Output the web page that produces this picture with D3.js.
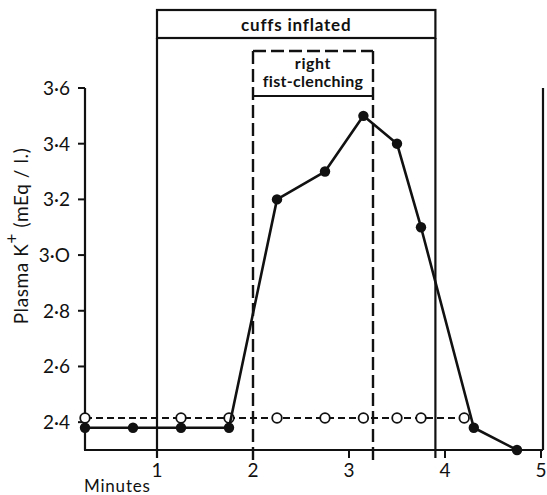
<!DOCTYPE html>
<html><head><meta charset="utf-8">
<script src="https://cdn.jsdelivr.net/npm/d3@7"></script>
<style>body{margin:0;background:#fff;-webkit-font-smoothing:antialiased}svg{display:block}text{font-family:Lato,"Open Sans",sans-serif;fill:#111}</style>
</head><body>
<script>
// Data
const filledMinutes = [0.25, 0.75, 1.25, 1.75, 2.25, 2.75, 3.15, 3.5, 3.75, 4.3, 4.75];
const filledK       = [2.38, 2.38, 2.38, 2.38, 3.2, 3.3, 3.5, 3.4, 3.1, 2.38, 2.3];
const openMinutes   = [0.25, 1.25, 1.75, 2.25, 2.75, 3.15, 3.5, 3.75, 4.2];
const openK         = [2.415, 2.415, 2.415, 2.415, 2.415, 2.415, 2.415, 2.415, 2.415];
const yTicks = [2.4, 2.6, 2.8, 3.0, 3.2, 3.4, 3.6];
const yTickLabels = ["2·4", "2·6", "2·8", "3·O", "3·2", "3·4", "3·6"];
const xTicks = [1, 2, 3, 4, 5];
const xTickLabels = ["1", "2", "3", "4", "5"];
const cuffs = {start: 1, end: 3.9, label: "cuffs inflated"};
const fist = {start: 2, end: 3.25, label: ["right", "fist-clenching"]};

const W = 547, H = 495;
const svg = d3.select("body").append("svg").attr("width", W).attr("height", H);
const x = d3.scaleLinear().domain([0.25, 5]).range([85, 541]);
const y = d3.scaleLinear().domain([2.3, 3.6]).range([450, 88]);
const ink = "#111";

// axes lines
svg.append("line").attr("x1", x(0.25)).attr("x2", x(0.25)).attr("y1", y(3.6)).attr("y2", y(2.3)).attr("stroke", ink).attr("stroke-width", 2.2);
svg.append("line").attr("x1", x(0.25)-1).attr("x2", x(5)+2).attr("y1", y(2.3)).attr("y2", y(2.3)).attr("stroke", ink).attr("stroke-width", 2.2);
svg.append("line").attr("x1", x(5)+2).attr("x2", x(5)+2).attr("y1", y(3.6)).attr("y2", y(2.3)).attr("stroke", ink).attr("stroke-width", 2.2);

// y ticks
const yAxis = svg.append("g");
yTicks.forEach((t, i) => {
  yAxis.append("line").attr("x1", x(0.25)-7).attr("x2", x(0.25)).attr("y1", y(t)).attr("y2", y(t)).attr("stroke", ink).attr("stroke-width", 2);
  yAxis.append("text").attr("x", x(0.25)-15).attr("y", y(t)).attr("dy", "0.36em").attr("text-anchor", "end")
    .attr("font-size", 19).text(yTickLabels[i]);
});
// x ticks
xTicks.forEach((t, i) => {
  svg.append("line").attr("x1", x(t)).attr("x2", x(t)).attr("y1", y(2.3)).attr("y2", y(2.3)+8).attr("stroke", ink).attr("stroke-width", 2);
  svg.append("text").attr("x", x(t)).attr("y", 477).attr("text-anchor", "middle").attr("font-size", 19).text(xTickLabels[i]);
});
svg.append("text").attr("x", 84).attr("y", 492).attr("font-size", 17).attr("letter-spacing", 0.8).text("Minutes");

// y label
const yl = svg.append("g").attr("opacity", 0.99).append("text").attr("transform", "translate(28,236) rotate(-90)").attr("text-anchor", "middle").attr("font-size", 19).attr("letter-spacing", 0.6).attr("fill", ink);
yl.append("tspan").text("Plasma K");
yl.append("tspan").attr("baseline-shift", "super").attr("font-size", 17).text("+");
yl.append("tspan").text(" (mEq / l.)");

// cuffs box
const cTop = 10, cBand = 38;
svg.append("rect").attr("x", x(cuffs.start)).attr("y", cTop).attr("width", x(cuffs.end)-x(cuffs.start)).attr("height", cBand-cTop)
  .attr("fill", "none").attr("stroke", ink).attr("stroke-width", 2.2);
[cuffs.start, cuffs.end].forEach(v => {
  svg.append("line").attr("x1", x(v)).attr("x2", x(v)).attr("y1", cBand).attr("y2", y(2.3)+8).attr("stroke", ink).attr("stroke-width", 2.2);
});
svg.append("text").attr("x", (x(cuffs.start)+x(cuffs.end))/2).attr("y", 31).attr("text-anchor", "middle")
  .attr("font-size", 17).attr("font-weight", "bold").attr("letter-spacing", 0.8).text(cuffs.label);

// fist box
const fTop = 51, fLine = 96;
const dash = "13,5";
svg.append("line").attr("x1", x(fist.start)).attr("x2", x(fist.end)).attr("y1", fTop).attr("y2", fTop).attr("stroke", ink).attr("stroke-width", 2.4).attr("stroke-dasharray", dash);
[fist.start, fist.end].forEach(v => {
  svg.append("line").attr("x1", x(v)).attr("x2", x(v)).attr("y1", fTop).attr("y2", 460).attr("stroke", ink).attr("stroke-width", 2.4).attr("stroke-dasharray", dash);
});
svg.append("line").attr("x1", x(fist.start)).attr("x2", x(fist.end)).attr("y1", fLine).attr("y2", fLine).attr("stroke", ink).attr("stroke-width", 2.2);
svg.append("text").attr("x", (x(fist.start)+x(fist.end))/2).attr("y", 69).attr("text-anchor", "middle").attr("font-size", 16).attr("font-weight", "bold").attr("letter-spacing", 0.6).text(fist.label[0]);
svg.append("text").attr("x", (x(fist.start)+x(fist.end))/2).attr("y", 87).attr("text-anchor", "middle").attr("font-size", 16).attr("font-weight", "bold").attr("letter-spacing", 0.3).text(fist.label[1]);

// open series (dashed)
const openData = openMinutes.map((m, i) => [m, openK[i]]);
const line = d3.line().x(d => x(d[0])).y(d => y(d[1]));
svg.append("path").attr("d", line(openData)).attr("fill", "none").attr("stroke", ink).attr("stroke-width", 2.2).attr("stroke-dasharray", "7,4");
svg.selectAll(".op").data(openData).enter().append("circle").attr("cx", d => x(d[0])).attr("cy", d => y(d[1])).attr("r", 4.8)
  .attr("fill", "#fff").attr("stroke", ink).attr("stroke-width", 1.8);

// filled series
const filledData = filledMinutes.map((m, i) => [m, filledK[i]]);
svg.append("path").attr("d", line(filledData)).attr("fill", "none").attr("stroke", ink).attr("stroke-width", 2.6).attr("stroke-linejoin", "round");
svg.selectAll(".fp").data(filledData).enter().append("circle").attr("cx", d => x(d[0])).attr("cy", d => y(d[1])).attr("r", 5.2).attr("fill", ink);
</script>
</body></html>
